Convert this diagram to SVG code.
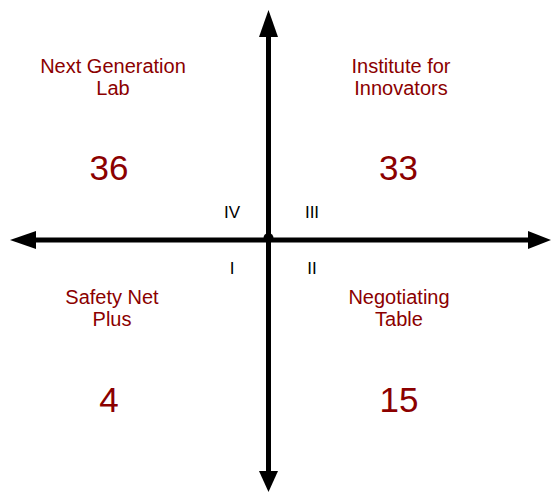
<svg xmlns="http://www.w3.org/2000/svg" width="551" height="492" viewBox="0 0 551 492">
<style>
.lbl{font-family:"Liberation Sans",Arial,sans-serif;font-size:20px;fill:#8b0000;text-anchor:middle}
.num{font-family:"Liberation Sans",Arial,sans-serif;font-size:35px;fill:#8b0000;text-anchor:middle}
.rom{font-family:"Liberation Sans",Arial,sans-serif;font-size:17px;fill:#000;text-anchor:middle}
.ax{stroke:#000;stroke-width:5;fill:none}
</style>
<rect width="551" height="492" fill="#fff"/>
<g id="connectors">
<line class="ax" x1="34" y1="240" x2="530" y2="240"/>
<line class="ax" x1="268.5" y1="34" x2="268.5" y2="473"/>
<polygon points="10,240 36,231 36,249" fill="#000"/>
<polygon points="551,240 528,231 528,249" fill="#000"/>
<polygon points="268.5,10 259,37 278,37" fill="#000"/>
<polygon points="268.5,492 259,471 278,471" fill="#000"/>
<circle cx="268.5" cy="238" r="5" fill="#000"/>
</g>
<g id="q4">
<text class="lbl" x="113" y="73">Next Generation</text>
<text class="lbl" x="113" y="95">Lab</text>
<text class="num" x="109" y="180">36</text>
</g>
<g id="q3">
<text class="lbl" x="401" y="73">Institute for</text>
<text class="lbl" x="401" y="95">Innovators</text>
<text class="num" x="398.5" y="180">33</text>
</g>
<g id="q1">
<text class="lbl" x="112" y="304">Safety Net</text>
<text class="lbl" x="112" y="326">Plus</text>
<text class="num" x="109" y="412">4</text>
</g>
<g id="q2">
<text class="lbl" x="399" y="304">Negotiating</text>
<text class="lbl" x="399" y="326">Table</text>
<text class="num" x="399" y="412">15</text>
</g>
<g id="numerals">
<text class="rom" x="232" y="218">IV</text>
<text class="rom" x="312" y="218">III</text>
<text class="rom" x="232" y="274">I</text>
<text class="rom" x="312" y="274">II</text>
</g>
</svg>
